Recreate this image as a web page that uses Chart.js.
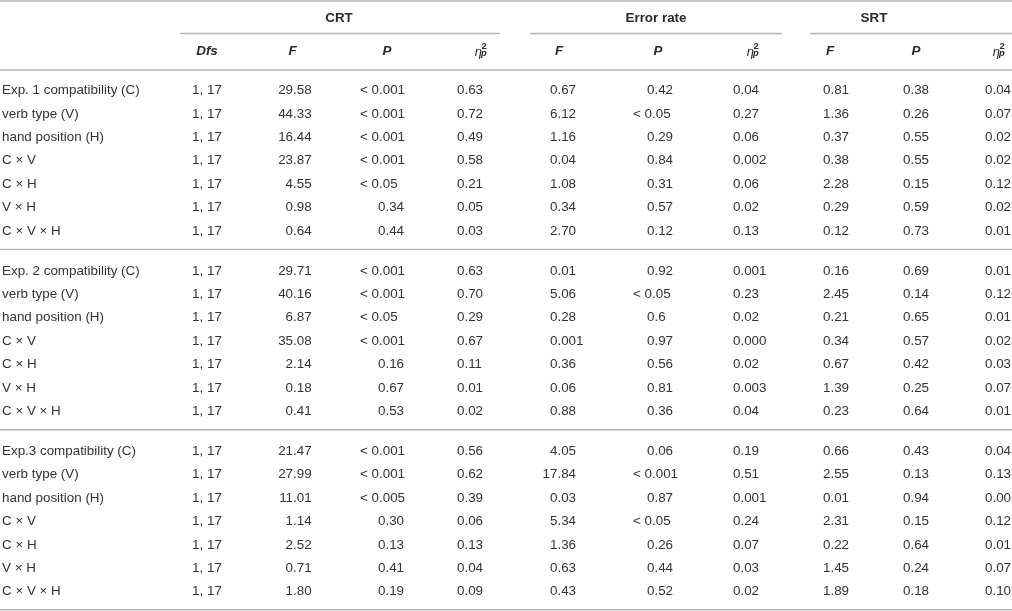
<!DOCTYPE html>
<html>
<head>
<meta charset="utf-8">
<script src="https://cdn.jsdelivr.net/npm/chart.js@4.4.1/dist/chart.umd.min.js"></script>
<style>
  html, body { margin: 0; padding: 0; background: #fff; }
  #wrap { width: 1012px; height: 611px; }
</style>
</head>
<body>
<div id="wrap"><canvas id="tbl" width="1012" height="611"></canvas></div>
<script>
// ---- table data ----
const groups = ["CRT", "Error rate", "SRT"];

const rowLabels = [
  "Exp. 1 compatibility (C)", "verb type (V)", "hand position (H)", "C × V", "C × H", "V × H", "C × V × H",
  "Exp. 2 compatibility (C)", "verb type (V)", "hand position (H)", "C × V", "C × H", "V × H", "C × V × H",
  "Exp.3 compatibility (C)", "verb type (V)", "hand position (H)", "C × V", "C × H", "V × H", "C × V × H"
];

const dfs = [
  "1, 17", "1, 17", "1, 17", "1, 17", "1, 17", "1, 17", "1, 17",
  "1, 17", "1, 17", "1, 17", "1, 17", "1, 17", "1, 17", "1, 17",
  "1, 17", "1, 17", "1, 17", "1, 17", "1, 17", "1, 17", "1, 17"
];

const crtF = [
  "29.58", "44.33", "16.44", "23.87", "4.55", "0.98", "0.64",
  "29.71", "40.16", "6.87", "35.08", "2.14", "0.18", "0.41",
  "21.47", "27.99", "11.01", "1.14", "2.52", "0.71", "1.80"
];
const crtP = [
  "< 0.001", "< 0.001", "< 0.001", "< 0.001", "< 0.05", "0.34", "0.44",
  "< 0.001", "< 0.001", "< 0.05", "< 0.001", "0.16", "0.67", "0.53",
  "< 0.001", "< 0.001", "< 0.005", "0.30", "0.13", "0.41", "0.19"
];
const crtEta = [
  "0.63", "0.72", "0.49", "0.58", "0.21", "0.05", "0.03",
  "0.63", "0.70", "0.29", "0.67", "0.11", "0.01", "0.02",
  "0.56", "0.62", "0.39", "0.06", "0.13", "0.04", "0.09"
];

const errF = [
  "0.67", "6.12", "1.16", "0.04", "1.08", "0.34", "2.70",
  "0.01", "5.06", "0.28", "0.001", "0.36", "0.06", "0.88",
  "4.05", "17.84", "0.03", "5.34", "1.36", "0.63", "0.43"
];
const errP = [
  "0.42", "< 0.05", "0.29", "0.84", "0.31", "0.57", "0.12",
  "0.92", "< 0.05", "0.6", "0.97", "0.56", "0.81", "0.36",
  "0.06", "< 0.001", "0.87", "< 0.05", "0.26", "0.44", "0.52"
];
const errEta = [
  "0.04", "0.27", "0.06", "0.002", "0.06", "0.02", "0.13",
  "0.001", "0.23", "0.02", "0.000", "0.02", "0.003", "0.04",
  "0.19", "0.51", "0.001", "0.24", "0.07", "0.03", "0.02"
];

const srtF = [
  "0.81", "1.36", "0.37", "0.38", "2.28", "0.29", "0.12",
  "0.16", "2.45", "0.21", "0.34", "0.67", "1.39", "0.23",
  "0.66", "2.55", "0.01", "2.31", "0.22", "1.45", "1.89"
];
const srtP = [
  "0.38", "0.26", "0.55", "0.55", "0.15", "0.59", "0.73",
  "0.69", "0.14", "0.65", "0.57", "0.42", "0.25", "0.64",
  "0.43", "0.13", "0.94", "0.15", "0.64", "0.24", "0.18"
];
const srtEta = [
  "0.04", "0.07", "0.02", "0.02", "0.12", "0.02", "0.01",
  "0.01", "0.12", "0.01", "0.02", "0.03", "0.07", "0.01",
  "0.04", "0.13", "0.00", "0.12", "0.01", "0.07", "0.10"
];

// ---- layout ----
const FONT = "'Liberation Sans', Arial, Helvetica, sans-serif";
const FS = 13.4;
const TXT = "#333";
const RULE = "#b4b4b4";
const ROW_H = 23.4;     // px per row
const FIRST_ROW = 90;   // px of first body row
const BLOCK_ROWS = 7;
const BLOCK_GAP = 40 / ROW_H - 1; // extra rows between blocks

// y scale works in "row units"
const rowPos = i => Math.floor(i / BLOCK_ROWS) * (BLOCK_ROWS + BLOCK_GAP) + (i % BLOCK_ROWS);
const toRow = px => (px - FIRST_ROW) / ROW_H;

const columns = [
  { vals: dfs,    x: 207,   align: "center", head: "Dfs", hx: 207 },
  { vals: crtF,   x: 285.6, align: "dec",    head: "F",   hx: 292.5 },
  { vals: crtP,   x: 378,   align: "dec", lt: 18, head: "P", hx: 387 },
  { vals: crtEta, x: 457,   align: "dec",    head: "eta", hx: 481 },
  { vals: errF,   x: 550,   align: "dec",    head: "F",   hx: 559 },
  { vals: errP,   x: 647,   align: "dec", lt: 14, head: "P", hx: 658 },
  { vals: errEta, x: 733,   align: "dec",    head: "eta", hx: 753 },
  { vals: srtF,   x: 823,   align: "dec",    head: "F",   hx: 830 },
  { vals: srtP,   x: 903,   align: "dec",    head: "P",   hx: 916 },
  { vals: srtEta, x: 985,   align: "dec",    head: "eta", hx: 999 }
];
const groupSpan = [[180, 500, 339], [530, 782, 656], [810, 1012, 874]];

const datasets = [{ vals: rowLabels, x: 2, align: "left" }].concat(columns).map(c => ({
  data: c.vals.map((v, i) => ({ x: c.x, y: rowPos(i) })),
  cellText: c.vals,
  cellAlign: c.align,
  ltShift: c.lt || 0,
  pointRadius: 0,
  showLine: false
}));

const tablePlugin = {
  id: "tableText",
  afterDatasetsDraw(chart) {
    const ctx = chart.ctx;
    const xs = chart.scales.x, ys = chart.scales.y;
    ctx.save();
    ctx.fillStyle = TXT;
    ctx.textBaseline = "middle";

    // body cells
    ctx.font = FS + "px " + FONT;
    const zeroW = ctx.measureText("0").width;
    chart.data.datasets.forEach((ds, di) => {
      const meta = chart.getDatasetMeta(di);
      meta.data.forEach((pt, j) => {
        const s = ds.cellText[j];
        let x = pt.x;
        if (ds.cellAlign === "center") {
          ctx.textAlign = "center";
        } else if (ds.cellAlign === "left") {
          ctx.textAlign = "left";
        } else {
          ctx.textAlign = "left";
          if (s.startsWith("<")) {
            x = pt.x - ds.ltShift;
          } else {
            const intPart = s.split(".")[0];
            x = pt.x - (ctx.measureText(intPart).width - zeroW);
          }
        }
        ctx.fillText(s, x, pt.y + 0.5);
      });
    });

    // rules
    ctx.strokeStyle = RULE;
    ctx.lineWidth = 1.4;
    const hline = (x0, x1, py) => {
      const y = ys.getPixelForValue(toRow(py));
      ctx.beginPath();
      ctx.moveTo(xs.getPixelForValue(x0), y);
      ctx.lineTo(xs.getPixelForValue(x1), y);
      ctx.stroke();
    };
    hline(0, 1012, 1);
    groupSpan.forEach(g => hline(g[0], g[1], 33.5));
    hline(0, 1012, 70);
    const lastRow1 = FIRST_ROW + rowPos(6) * ROW_H;
    const lastRow2 = FIRST_ROW + rowPos(13) * ROW_H;
    const lastRow3 = FIRST_ROW + rowPos(20) * ROW_H;
    hline(0, 1012, lastRow1 + 19);
    hline(0, 1012, lastRow2 + 19);
    hline(0, 1012, lastRow3 + 18.5);

    // group headers
    ctx.fillStyle = "#2a2a2a";
    ctx.textAlign = "center";
    ctx.font = "bold " + FS + "px " + FONT;
    groups.forEach((g, i) => {
      ctx.fillText(g, xs.getPixelForValue(groupSpan[i][2]), ys.getPixelForValue(toRow(18.5)));
    });

    // column headers
    const hy = ys.getPixelForValue(toRow(51.5));
    columns.forEach(c => {
      const cx = xs.getPixelForValue(c.hx);
      if (c.head === "eta") {
        ctx.textAlign = "left";
        ctx.textBaseline = "alphabetic";
        ctx.font = "italic 13px " + FONT;
        const w1 = ctx.measureText("η").width;
        ctx.font = "bold 9.5px " + FONT;
        const w2 = ctx.measureText("2").width;
        const x0 = cx - (w1 + w2) / 2;
        ctx.font = "italic 13px " + FONT;
        ctx.fillText("η", x0, hy + 4.5);
        ctx.font = "bold 9.5px " + FONT;
        ctx.fillText("2", x0 + w1 - 0.5, hy - 2.5);
        ctx.font = "italic bold 9.5px " + FONT;
        ctx.fillText("p", x0 + w1 - 1, hy + 4.5);
        ctx.textBaseline = "middle";
      } else {
        ctx.textAlign = "center";
        ctx.font = "italic bold " + FS + "px " + FONT;
        ctx.fillText(c.head, cx, hy);
      }
    });
    ctx.restore();
  }
};

new Chart(document.getElementById("tbl"), {
  type: "scatter",
  data: { datasets },
  options: {
    responsive: false,
    animation: false,
    events: [],
    layout: { padding: 0 },
    plugins: { legend: { display: false }, tooltip: { enabled: false } },
    scales: {
      x: { type: "linear", display: false, min: 0, max: 1012 },
      y: { type: "linear", display: false, reverse: true, min: toRow(0), max: toRow(611) }
    }
  },
  plugins: [tablePlugin]
});
</script>
</body>
</html>
